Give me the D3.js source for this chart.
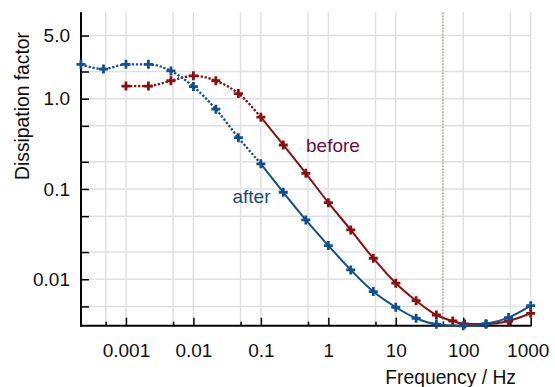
<!DOCTYPE html>
<html><head><meta charset="utf-8">
<script src="https://cdn.jsdelivr.net/npm/d3@7"></script>
<style>body{margin:0;background:#fff}svg{display:block;font-family:"Liberation Sans",Arial,sans-serif}</style>
</head><body><svg id="c" width="555" height="387"></svg>
<script>
const afterFreq = [0.000215,0.000464,0.001,0.00215,0.00464,0.01,0.0215,0.0464,0.1,0.215,0.464,1,2.15,4.64,10,20,40,100,215,470,1000];
const afterVal  = [2.40,2.13,2.40,2.40,2.03,1.36,0.765,0.370,0.190,0.092,0.0454,0.0236,0.0127,0.0073,0.0049,0.0037,0.00318,0.00305,0.0032,0.00376,0.0051];
const beforeFreq = [0.001,0.00215,0.00464,0.01,0.0215,0.0464,0.1,0.215,0.464,1,2.15,4.64,10,20,40,70,105,220,470,1000];
const beforeVal  = [1.38,1.38,1.58,1.79,1.58,1.14,0.624,0.307,0.149,0.0705,0.0352,0.0171,0.00904,0.00579,0.00402,0.00345,0.0032,0.0032,0.00345,0.0042];
const xTickVals = [0.001,0.01,0.1,1,10,100,1000];
const xTickLabels = ["0.001","0.01","0.1","1","10","100","1000"];
const xMinorVals = [0.0005,0.005,0.05,0.5,5,50,500];
const yTickVals = [5,1,0.1,0.01];
const yTickLabels = ["5.0","1.0","0.1","0.01"];
const yGridVals = [5,2,1,0.5,0.2,0.1,0.05,0.02,0.01,0.005];
const mainsFreq = 50;
const splitFreq = 0.1;

const svg = d3.select("#c");
const L=81, R=530.7, T=12.3, B=325.7;
const x = d3.scaleLog().domain([Math.pow(10,-11/3),1000]).range([L,R]);
const y = d3.scaleLog().domain([0.00306,9.05]).range([B,T]);
const blue="#11508e", red="#8a1010";
const FONT="Liberation Sans, Arial, sans-serif";

const grid = svg.append("g").attr("stroke","#e0e0e0").attr("stroke-width",1.5);
xTickVals.concat(xMinorVals).forEach(v=>{
  if(v===mainsFreq) return;
  grid.append("line").attr("x1",x(v)).attr("x2",x(v)).attr("y1",T).attr("y2",B);
});
yGridVals.forEach(v=>{
  grid.append("line").attr("x1",L).attr("x2",R).attr("y1",y(v)).attr("y2",y(v));
});
svg.append("line").attr("x1",x(mainsFreq)).attr("x2",x(mainsFreq)).attr("y1",T).attr("y2",B)
  .attr("stroke","#b0a89f").attr("stroke-width",1.5).attr("stroke-dasharray","2,1");

// axes
const xAxis = d3.axisBottom(x).tickValues(xTickVals).tickSize(-8).tickFormat((d,i)=>xTickLabels[i]);
const gx = svg.append("g").attr("transform",`translate(0,${B})`).call(xAxis);
const gxm = svg.append("g").attr("transform",`translate(0,${B})`).call(d3.axisBottom(x).tickValues(xMinorVals).tickSize(-4).tickFormat(""));
const yAxis = d3.axisLeft(y).tickValues(yGridVals).tickSize(-8).tickFormat(d=>{const i=yTickVals.indexOf(d);return i>=0?yTickLabels[i]:"";}).tickPadding(11);
const gy = svg.append("g").attr("transform",`translate(${L},0)`).call(yAxis);
[gx,gxm,gy].forEach(g=>{
  g.attr("font-size",19).attr("font-family",FONT);
  g.select(".domain").remove();
  g.selectAll(".tick line").attr("stroke","#000").attr("stroke-width",1.5);
  g.selectAll(".tick text").attr("font-size",19).attr("fill","#111").attr("font-family",FONT);
});
gx.selectAll(".tick text").attr("dy",null).attr("y",31);
gx.selectAll(".tick text").filter((d)=>d===1000).attr("dx",-3);
svg.append("line").attr("x1",L).attr("x2",L).attr("y1",T).attr("y2",B+1).attr("stroke","#000").attr("stroke-width",2);
svg.append("line").attr("x1",L-1).attr("x2",R+1).attr("y1",B).attr("y2",B).attr("stroke","#000").attr("stroke-width",2);

function drawSeries(fr,vals,col){
  const pts = fr.map((f,i)=>({f,v:vals[i]}));
  const line = d3.line().x(d=>x(d.f)).y(d=>y(d.v)).curve(d3.curveMonotoneX);
  svg.append("path").datum(pts.filter(d=>d.f<=splitFreq)).attr("d",line)
    .attr("fill","none").attr("stroke",col).attr("stroke-width",2.3).attr("stroke-dasharray","2.3,1.7");
  svg.append("path").datum(pts.filter(d=>d.f>=splitFreq)).attr("d",line)
    .attr("fill","none").attr("stroke",col).attr("stroke-width",2);
  svg.append("g").selectAll("path").data(pts).join("path")
    .attr("transform",d=>`translate(${x(d.f)},${y(d.v)})`)
    .attr("d","M-4.5,0H4.5M0,-4.5V4.5").attr("stroke",col).attr("stroke-width",2.8).attr("fill","none");
}
drawSeries(beforeFreq,beforeVal,red);
drawSeries(afterFreq,afterVal,blue);

svg.append("text").attr("x",306).attr("y",151.5).attr("font-size",19).attr("fill","#6a1040").text("before");
svg.append("text").attr("x",232.5).attr("y",203).attr("font-size",19).attr("fill","#1a4a80").text("after");
svg.append("text").attr("x",516).attr("y",383.5).attr("text-anchor","end").attr("font-size",19.3).attr("fill","#111").text("Frequency / Hz");
svg.append("text").attr("transform","translate(29,106) rotate(-90)").attr("text-anchor","middle").attr("font-size",19.3).attr("fill","#111").text("Dissipation factor");
</script></body></html>
